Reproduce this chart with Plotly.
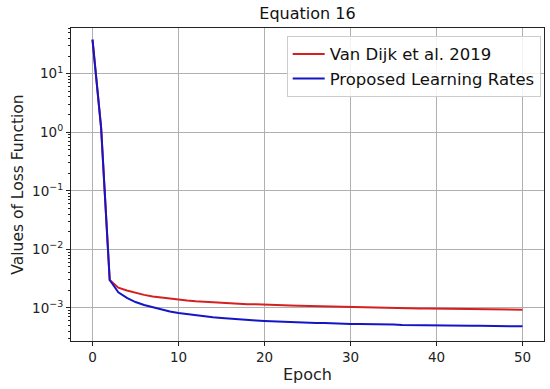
import plotly.graph_objects as go

epochs = list(range(51))

van_dijk = [38, 1.2, 0.0030, 0.00222, 0.00198, 0.00180, 0.00167, 0.00157, 0.00150, 0.00144,
            0.00139, 0.00134, 0.00130, 0.00127, 0.00124, 0.00122, 0.00120, 0.00118, 0.00116, 0.00115,
            0.00113, 0.00112, 0.00111, 0.00110, 0.00109, 0.00108, 0.00107, 0.00106, 0.00105, 0.00104,
            0.00103, 0.00102, 0.00102, 0.00101, 0.00100, 0.000995, 0.00099, 0.000985, 0.00098, 0.000975,
            0.00097, 0.000965, 0.00096, 0.000955, 0.00095, 0.000947, 0.000944, 0.000941, 0.000938, 0.000935,
            0.000932]

proposed = [38, 1.2, 0.0030, 0.00185, 0.00148, 0.00126, 0.00112, 0.00102, 0.00094, 0.00087,
            0.00082, 0.00078, 0.00075, 0.00072, 0.00069, 0.00067, 0.00065, 0.00064, 0.00062, 0.00061,
            0.00060, 0.00059, 0.00058, 0.00057, 0.00057, 0.00056, 0.00055, 0.00055, 0.00054, 0.00054,
            0.00053, 0.00053, 0.00053, 0.00052, 0.00052, 0.00052, 0.00051, 0.00051, 0.00051, 0.00051,
            0.000505, 0.000503, 0.000501, 0.000499, 0.000497, 0.000495, 0.000493, 0.000491, 0.000489, 0.000487,
            0.000485]

series_names = ["Van Dijk et al. 2019", "Proposed Learning Rates"]
x_ticks = [0, 10, 20, 30, 40, 50]
y_major = [1e-3, 1e-2, 1e-1, 1e0, 1e1]
y_major_text = ["10<sup>\u22123</sup>", "10<sup>\u22122</sup>", "10<sup>\u22121</sup>",
                "10<sup>0</sup>", "10<sup>1</sup>"]
y_minor = [m * 10.0 ** e for e in range(-4, 2) for m in range(2, 10)]

FONT = "DejaVu Sans"
y_range = [-3.565, 1.78]
x_range = [-2.5, 52.5]

fig = go.Figure()
fig.add_trace(go.Scatter(x=epochs, y=van_dijk, mode="lines", name=series_names[0],
                         line=dict(color="#d42020", width=2)))
fig.add_trace(go.Scatter(x=epochs, y=proposed, mode="lines", name=series_names[1],
                         line=dict(color="#1515c8", width=2)))
# invisible trace to activate minor-tick overlay axis
fig.add_trace(go.Scatter(x=[None], y=[None], yaxis="y2", showlegend=False, hoverinfo="skip"))

fig.update_layout(
    width=550, height=389,
    margin=dict(l=71, r=6, t=28, b=48, autoexpand=False),
    paper_bgcolor="white", plot_bgcolor="white",
    font=dict(family=FONT, size=13, color="#222222"),
    title=dict(text="Equation 16", x=0.559, xanchor="center",
               y=1 - 13 / 389, yanchor="middle", font=dict(size=16, family=FONT, color="#111111")),
    xaxis=dict(
        range=x_range, tickmode="array", tickvals=x_ticks, ticks="outside", ticklen=4,
        tickcolor="#222222", showline=True, linecolor="#222222", linewidth=1.2, mirror=True,
        showgrid=True, gridcolor="#b0b0b0", gridwidth=1, zeroline=False, automargin=False,
        title=dict(text="Epoch", font=dict(size=16, family=FONT), standoff=4),
        tickfont=dict(size=13.5, family=FONT),
    ),
    yaxis=dict(
        type="log", range=y_range, tickmode="array", tickvals=y_major, ticktext=y_major_text,
        ticks="outside", ticklen=4, tickcolor="#222222", showline=True, linecolor="#222222",
        linewidth=1.2, mirror=True, showgrid=True, gridcolor="#b0b0b0", gridwidth=1, zeroline=False,
        automargin=False,
        title=dict(text="Values of Loss Function", font=dict(size=15.5, family=FONT), standoff=4),
        tickfont=dict(size=13.5, family=FONT),
    ),
    yaxis2=dict(
        type="log", range=y_range, overlaying="y", side="left", tickmode="array",
        tickvals=y_minor, ticktext=[""] * len(y_minor), ticks="outside", ticklen=2,
        tickcolor="#222222", showgrid=False, showline=False, zeroline=False, automargin=False,
    ),
    legend=dict(
        x=0.993, y=0.975, xanchor="right", yanchor="top",
        bgcolor="rgba(255,255,255,0.85)", bordercolor="#cccccc", borderwidth=1,
        font=dict(size=16.5, family=FONT, color="#111111"),
        itemwidth=32, tracegroupgap=0,
    ),
    showlegend=True,
)

fig.write_html("out.html", config={"displayModeBar": False},
               post_script="document.body.style.margin='0';document.body.style.overflow='hidden';")
